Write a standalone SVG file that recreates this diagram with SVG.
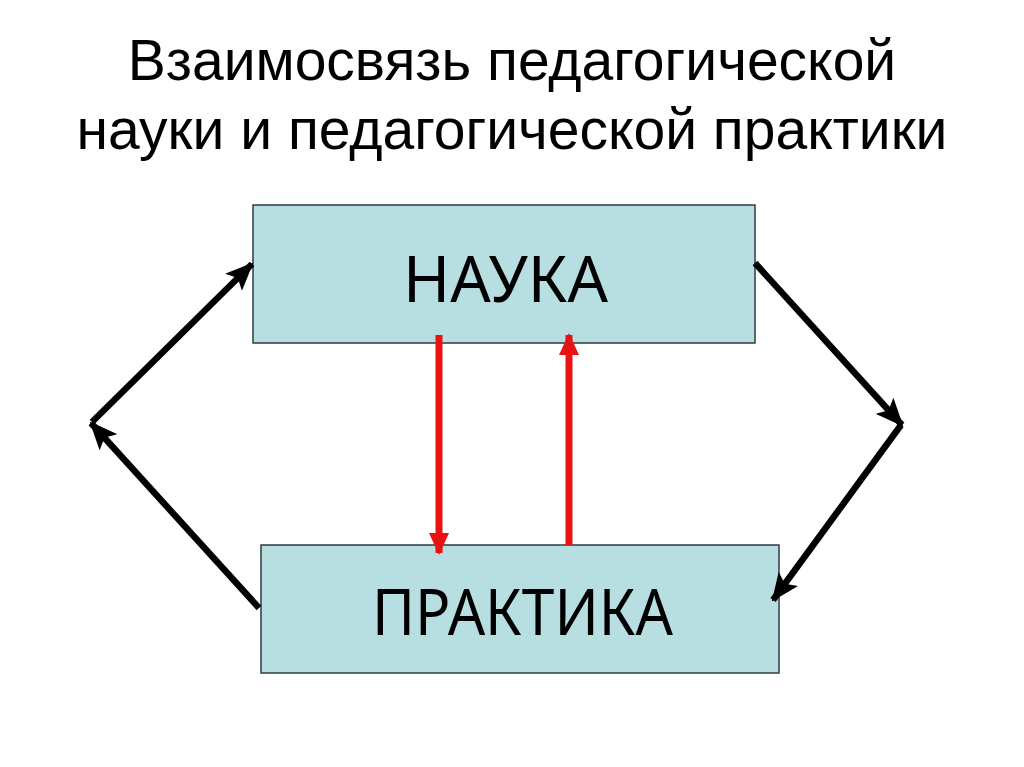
<svg xmlns="http://www.w3.org/2000/svg" width="1024" height="767" viewBox="0 0 1024 767">
<style>
.title{font-family:"Liberation Sans",Arial,sans-serif;font-size:57px;fill:#000;text-anchor:middle}
.box{fill:#B7DFE2;stroke:#2F3B3D;stroke-width:1.5}
.lbl{font-family:"Noto Sans","Open Sans",sans-serif;font-size:64px;fill:#000;text-anchor:middle}
.blk{stroke:#000;stroke-width:6.5;fill:none}
.red{stroke:#E81212;stroke-width:7;fill:none}
</style>
<defs>
<marker id="ab" markerUnits="userSpaceOnUse" markerWidth="28" markerHeight="24" refX="26" refY="12" orient="auto">
<path d="M0,0 L28,12 L0,24 L6,12 Z" fill="#000"/>
</marker>
<marker id="ar" markerUnits="userSpaceOnUse" markerWidth="22" markerHeight="20" refX="20" refY="10" orient="auto">
<path d="M0,0 L22,10 L0,20 Z" fill="#E81212"/>
</marker>
</defs>
<rect width="1024" height="767" fill="#fff"/>
<g id="title">
<text class="title" x="512" y="80">Взаимосвязь педагогической</text>
<text class="title" x="512" y="149">науки и педагогической практики</text>
</g>
<g id="nauka">
<rect class="box" x="253" y="205" width="502" height="138"/>
<text class="lbl" x="505.5" y="302" textLength="205" lengthAdjust="spacingAndGlyphs">НАУКА</text>
</g>
<g id="praktika">
<rect class="box" x="261" y="545" width="518" height="128"/>
<text class="lbl" x="522.5" y="635" textLength="301" lengthAdjust="spacingAndGlyphs">ПРАКТИКА</text>
</g>
<g id="connectors">
<line class="blk" x1="92" y1="422" x2="252" y2="264" marker-end="url(#ab)"/>
<line class="blk" x1="259" y1="608" x2="91" y2="423" marker-end="url(#ab)"/>
<line class="blk" x1="755" y1="263" x2="902" y2="425" marker-end="url(#ab)"/>
<line class="blk" x1="901" y1="425" x2="773" y2="600" marker-end="url(#ab)"/>
<line class="red" x1="439" y1="335" x2="439" y2="553" marker-end="url(#ar)"/>
<line class="red" x1="569" y1="545" x2="569" y2="335" marker-end="url(#ar)"/>
</g>
</svg>
